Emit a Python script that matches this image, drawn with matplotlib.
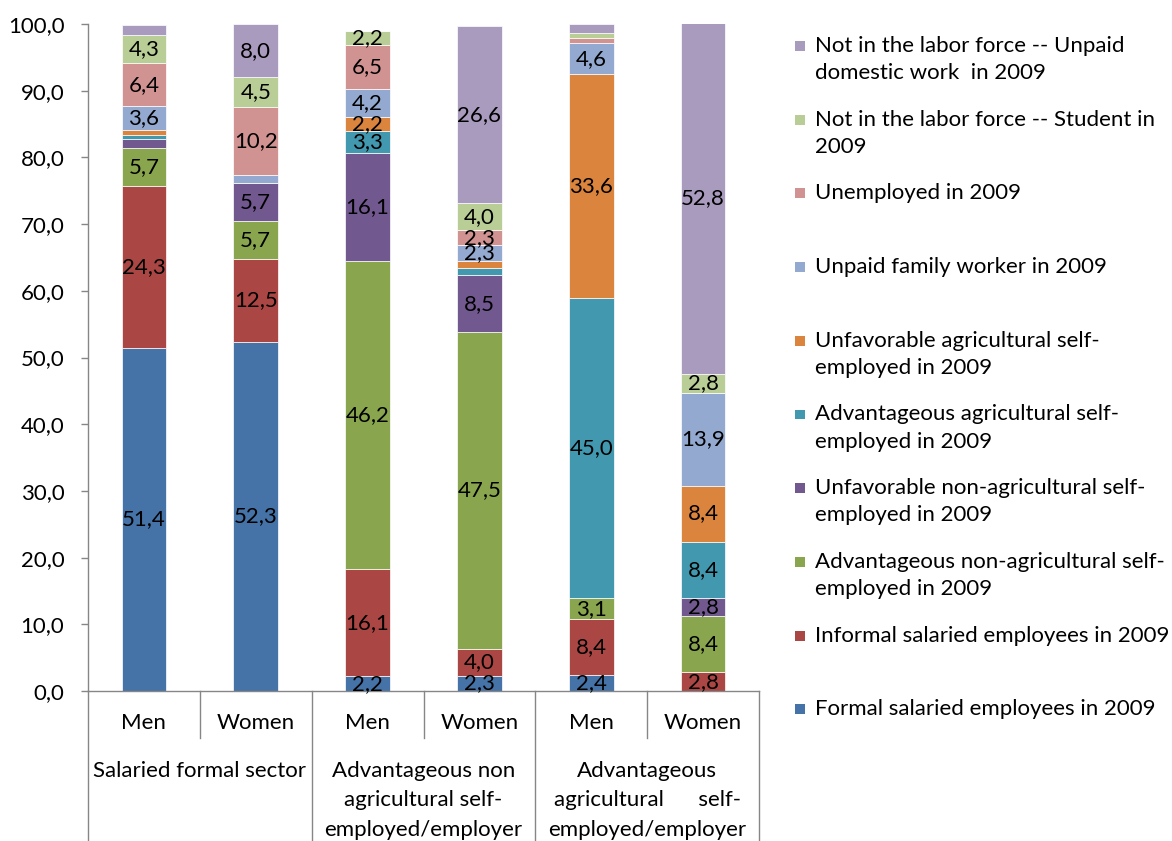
import matplotlib
matplotlib.use("Agg")
import matplotlib.pyplot as plt
import matplotlib.transforms as mtransforms
from matplotlib.patches import Rectangle
import numpy as np

plt.rcParams['font.family'] = ['Lato', 'DejaVu Sans']

# ---------------- data ----------------
sub_labels = ["Men", "Women", "Men", "Women", "Men", "Women"]
group_labels = [
    ["Salaried formal sector"],
    ["Advantageous non", "agricultural self-", "employed/employer"],
    ["Advantageous", "agricultural      self-", "employed/employer"],
]

series_names = [
    "Formal salaried employees in 2009",
    "Informal salaried employees in 2009",
    "Advantageous non-agricultural self-\nemployed in 2009",
    "Unfavorable non-agricultural self-\nemployed in 2009",
    "Advantageous agricultural self-\nemployed in 2009",
    "Unfavorable agricultural self-\nemployed in 2009",
    "Unpaid family worker in 2009",
    "Unemployed in 2009",
    "Not in the labor force -- Student in\n2009",
    "Not in the labor force -- Unpaid\ndomestic work  in 2009",
]

formal        = [51.4, 52.3,  2.2,  2.3,  2.4,  0.0]
informal      = [24.3, 12.5, 16.1,  4.0,  8.4,  2.8]
adv_nonag     = [ 5.7,  5.7, 46.2, 47.5,  3.1,  8.4]
unfav_nonag   = [ 1.3,  5.7, 16.1,  8.5,  0.0,  2.8]
adv_ag        = [ 0.7,  0.0,  3.3,  1.1, 45.0,  8.4]
unfav_ag      = [ 0.7,  0.0,  2.2,  1.1, 33.6,  8.4]
unpaid_family = [ 3.6,  1.1,  4.2,  2.3,  4.6, 13.9]
unemployed    = [ 6.4, 10.2,  6.5,  2.3,  0.8,  0.0]
student       = [ 4.3,  4.5,  2.2,  4.0,  0.8,  2.8]
domestic      = [ 1.5,  8.0,  0.0, 26.6,  1.3, 52.8]

series = [formal, informal, adv_nonag, unfav_nonag, adv_ag, unfav_ag,
          unpaid_family, unemployed, student, domestic]
colors = ["#4572A7", "#AA4643", "#89A54E", "#71588F", "#4198AF",
          "#DB843D", "#93A9CF", "#D19392", "#B9CD96", "#A99BBD"]

yticks = [0, 10, 20, 30, 40, 50, 60, 70, 80, 90, 100]

# ---------------- figure ----------------
W, H = 1172, 841
fig = plt.figure(figsize=(W / 100, H / 100), dpi=100)
FS = 16

def fx(px):
    return px / W

def fy(py):
    return (H - py) / H

ax_left, ax_right, ax_top, ax_bot = 88, 759, 24, 691
ax = fig.add_axes([fx(ax_left), fy(ax_bot), fx(ax_right - ax_left), (ax_bot - ax_top) / H])

x = np.arange(len(sub_labels))
bottom = np.zeros(len(x))
for vals, col in zip(series, colors):
    vals = np.array(vals)
    ax.bar(x, vals, width=0.40, bottom=bottom, color=col,
           edgecolor="white", linewidth=0.5)
    for xi, v, b in zip(x, vals, bottom):
        if v >= 2.0:
            ax.text(xi, b + v / 2, f"{v:.1f}".replace(".", ","),
                    ha="center", va="center", fontsize=FS, color="black")
    bottom += vals

ax.set_xlim(-0.5, len(x) - 0.5)
ax.set_ylim(0, 100)
ax.set_yticks(yticks)
ax.set_yticklabels([f"{t:.1f}".replace(".", ",") for t in yticks], fontsize=FS)
ax.tick_params(axis="y", length=5, width=1, color="#868686", pad=12)
ax.set_xticks([])
for s in ["top", "right"]:
    ax.spines[s].set_visible(False)
for s in ["left", "bottom"]:
    ax.spines[s].set_color("#868686")
    ax.spines[s].set_linewidth(1)

# ---------------- multi-level x axis ----------------
trans = mtransforms.blended_transform_factory(ax.transData, fig.transFigure)
line_kw = dict(color="#868686", lw=1, transform=trans, clip_on=False)
for b in [0.5, 2.5, 4.5]:
    fig.add_artist(plt.Line2D([b, b], [fy(ax_bot), fy(738)], **line_kw))
for b in [-0.5, 1.5, 3.5, 5.5]:
    fig.add_artist(plt.Line2D([b, b], [fy(ax_bot), 0], **line_kw))

for xi, lab in zip(x, sub_labels):
    fig.text(xi, fy(723), lab, transform=trans, ha="center", va="center", fontsize=FS)

line_y = [771, 800, 830]
for g, lines in enumerate(group_labels):
    cx = 2 * g + 0.5
    for li, txt in enumerate(lines):
        fig.text(cx, fy(line_y[li]), txt, transform=trans,
                 ha="center", va="center", fontsize=FS)

# ---------------- legend (manual) ----------------
leg_x_marker = 800
leg_x_text = 815
for k, idx in enumerate(range(len(series) - 1, -1, -1)):
    yc = 46 + k * 73.7
    fig.add_artist(Rectangle((fx(leg_x_marker - 5), fy(yc + 5)), 10 / W, 10 / H,
                             transform=fig.transFigure, facecolor=colors[idx],
                             edgecolor="none"))
    for li, txt in enumerate(series_names[idx].split("\n")):
        fig.text(fx(leg_x_text), fy(yc + li * 27), txt, ha="left", va="center",
                 fontsize=FS)

fig.savefig("out.png", dpi=100)
